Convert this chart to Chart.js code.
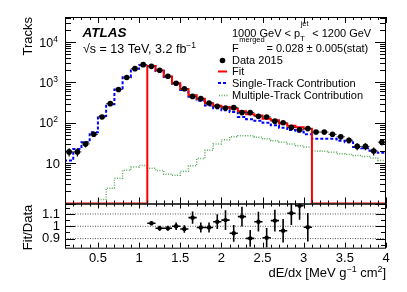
<!DOCTYPE html>
<html>
<head>
<meta charset="utf-8">
<script src="https://cdn.jsdelivr.net/npm/chart.js@4.4.1/dist/chart.umd.min.js"></script>
<style>
html, body { margin: 0; padding: 0; background: #fff; }
#wrap { position: relative; width: 407px; height: 292px; }
canvas { position: absolute; left: 0; top: 0; }
</style>
</head>
<body>
<div id="wrap">
<canvas id="main" width="407" height="292"></canvas>
<canvas id="ratio" width="407" height="292"></canvas>
</div>
<script>
// bin centres in dE/dx [MeV g^-1 cm^2], 0.1 wide (first bin lies left of the axis)
const dedx = [0.05,0.15,0.25,0.35,0.45,0.55,0.65,0.75,0.85,0.95,1.05,1.15,1.25,1.35,1.45,1.55,1.65,1.75,1.85,1.95,
              2.05,2.15,2.25,2.35,2.45,2.55,2.65,2.75,2.85,2.95,3.05,3.15,3.25,3.35,3.45,3.55,3.65,3.75,3.85,3.95]

const data2015 = [null,19,19,30,52,140,299,672,1325,2205,2765,2512,2003,1426,959,699,452,397,309,256,
                  233,238,179,179,146,140,110,100,77,67,72,59,59,52,45,37,26,26,20,33]
const dataErr = [null,4.4,4.4,5.5,7.2,11.8,17,26,36,47,53,50,45,38,31,26,21,20,18,16,
                 15,15,13,13,12,12,10.5,10,8.8,8.2,8.5,7.7,7.7,7.2,6.7,6.1,5.1,5.1,4.5,5.7]
// fit is empty outside 1.1-3.1, drawn on the axis floor
const fitVals = [1,1,1,1,1,1,1,1,1,1,1,2570,1970,1400,960,685,485,395,305,265,
                 245,225,193,162,151,127,115,96,85,78,71,1,1,1,1,1,1,1,1,1]
const singleTrack = [100,11.6,22.5,33,58,148,287,672,1345,2205,2660,2530,1930,1370,930,650,440,350,270,230,
                     205,185,140,123,112,100,87,76,66,60,52,40,40,40,36,33,25,23.5,20.4,18]
const multiTrack = [0.5,0.5,0.5,0.5,0.5,1.25,2.4,4.2,6.7,8.0,8.7,7.5,6.6,5.3,5.0,6.3,8.6,13,21,30,
                    38,45,48,48,44,40,36,33,30,27,25,20,19.6,18.7,17,16.5,15.4,14.7,13.5,11.7]

const ratioBins = [1.15,1.25,1.35,1.45,1.55,1.65,1.75,1.85,1.95,2.05,2.15,2.25,2.35,2.45,2.55,2.65,2.75,2.85,2.95,3.05]
const fitOverData = [1.024,0.984,0.984,1.0,0.978,1.07,0.99,0.99,1.037,1.05,0.943,1.078,0.902,1.037,0.907,1.046,0.964,1.106,1.167,0.992]
const ratioErr = [0.016,0.02,0.02,0.03,0.03,0.05,0.04,0.04,0.06,0.08,0.068,0.08,0.068,0.08,0.08,0.088,0.095,0.095,0.115,0.115]
const ratioLines = [0.9, 1.0, 1.1]

const xTicks = [0.5,1,1.5,2,2.5,3,3.5,4]
const yTicks = [10,100,1000,10000]
const ratioTicks = [0.9,1,1.1]

const FONT = '"Liberation Sans", Arial, sans-serif'
const half = 0.05

function hist(vals){
    const pts = []
    dedx.forEach((c,i) => { pts.push({x:c-half, y:vals[i]}, {x:c+half, y:vals[i]}) })
    return pts
}
function xBars(xs, ys){
    const pts = []
    xs.forEach((c,i) => { if (ys[i] == null) return; pts.push({x:c-half,y:ys[i]},{x:c+half,y:ys[i]},{x:c,y:null}) })
    return pts
}
function yBars(xs, ys, es){
    const pts = []
    xs.forEach((c,i) => { if (ys[i] == null) return; pts.push({x:c,y:ys[i]-es[i]},{x:c,y:ys[i]+es[i]},{x:c,y:null}) })
    return pts
}
function points(xs, ys){
    return xs.map((c,i) => ({x:c, y:ys[i]})).filter(p => p.y != null)
}

function txt(ctx, s, x, y, size, style, align){
    ctx.font = (style ? style + ' ' : '') + size + 'px ' + FONT
    ctx.textAlign = align || 'left'
    ctx.textBaseline = 'alphabetic'
    ctx.fillStyle = '#000'
    ctx.fillText(s, x, y)
    return ctx.measureText(s).width
}
// parts: [text, raise] ; raise 0 = normal, >0 superscript
function rich(ctx, parts, x, y, size, align){
    const w = parts.map(p => { ctx.font = (p[1] ? size*0.68 : size) + 'px ' + FONT; return ctx.measureText(p[0]).width })
    let cx = align === 'right' ? x - w.reduce((a,b)=>a+b,0) : x
    parts.forEach((p,i) => {
        txt(ctx, p[0], cx, y - (p[1] || 0), p[1] ? size*0.68 : size)
        cx += w[i]
    })
}

function tickMarks(ctx, a, sc, vals, major, lenMaj, lenMin, vertical){
    vals.forEach(v => {
        const p = Math.round(sc.getPixelForValue(v)) + 0.5
        const len = major(v) ? lenMaj : lenMin
        if (vertical){
            ctx.moveTo(a.left, p); ctx.lineTo(a.left + len, p)
            ctx.moveTo(a.right, p); ctx.lineTo(a.right - len, p)
        } else {
            ctx.moveTo(p, a.bottom); ctx.lineTo(p, a.bottom - len)
            ctx.moveTo(p, a.top); ctx.lineTo(p, a.top + len)
        }
    })
}

let xMinor = []
for (let k = 1; k <= 40; k++) xMinor.push(k/10)
const isHalf = v => Math.abs(v*2 - Math.round(v*2)) < 1e-6
let yMinor = []
for (let e = 0; e <= 4; e++) for (let m = 1; m <= 9; m++) if (m*Math.pow(10,e) <= 42000) yMinor.push(m*Math.pow(10,e))
const ratioMinor = [0.85,0.9,0.95,1,1.05,1.1,1.15]

const mainFrame = {
    id:'mainFrame',
    afterDraw(chart){
        const {ctx, chartArea:a, scales} = chart
        ctx.save()
        ctx.strokeStyle = '#000'
        ctx.lineWidth = 1
        ctx.strokeRect(a.left+0.5, a.top+0.5, a.right-a.left-1, a.bottom-a.top)
        ctx.beginPath()
        tickMarks(ctx, a, scales.x, xMinor, isHalf, 6, 3, false)
        tickMarks(ctx, a, scales.y, yMinor, v => yTicks.includes(v) || v === 1, 11, 6, true)
        ctx.stroke()

        // log axis labels
        yTicks.forEach((v,i) => {
            const p = scales.y.getPixelForValue(v) + 4.5
            if (i === 0) txt(ctx, '10', 60, p, 13, '', 'right')
            else rich(ctx, [['10',0],[String(i+1),5]], 58, p, 12.5, 'right')
        })

        // axis title
        ctx.save()
        ctx.translate(31.5, 17)
        ctx.rotate(-Math.PI/2)
        txt(ctx, 'Tracks', 0, 0, 13, '', 'right')
        ctx.restore()

        // labels
        txt(ctx, 'ATLAS', 82.5, 37, 13.5, 'italic bold')
        rich(ctx, [['\u221As = 13 TeV, 3.2 fb',0],['\u22121',5.5]], 83, 53, 12.5)

        let x = 232
        x += txt(ctx, '1000 GeV < p', x, 36.7, 11)
        ctx.font = '7.5px ' + FONT
        const jw = ctx.measureText('jet').width
        txt(ctx, 'jet', x + 0.5, 26, 7.5)
        txt(ctx, 'T', x, 40.5, 7.5)
        txt(ctx, ' < 1200 GeV', x + jw + 1, 36.7, 11)

        const fw = txt(ctx, 'F', 232, 51.7, 11)
        txt(ctx, 'merged', 232 + fw + 0.5, 42, 7.5)
        txt(ctx, '= 0.028 \u00B1 0.005(stat)', 266.5, 51.7, 11)

        // legend
        const rows = [64, 75.3, 86.8, 99]
        txt(ctx, 'Data 2015', 232, rows[0], 11)
        txt(ctx, 'Fit', 232, rows[1], 11)
        txt(ctx, 'Single-Track Contribution', 232, rows[2], 11)
        txt(ctx, 'Multiple-Track Contribution', 232, rows[3], 11)
        ctx.fillStyle = '#000'
        ctx.beginPath(); ctx.arc(222.5, 60.5, 2.8, 0, 2*Math.PI); ctx.fill()
        ctx.lineWidth = 2
        ctx.strokeStyle = '#ff0000'
        ctx.beginPath(); ctx.moveTo(218, 71.5); ctx.lineTo(227, 71.5); ctx.stroke()
        ctx.strokeStyle = '#0000ff'
        ctx.setLineDash([3,2])
        ctx.beginPath(); ctx.moveTo(218, 83); ctx.lineTo(228, 83); ctx.stroke()
        ctx.strokeStyle = '#5fae5f'
        ctx.lineWidth = 1.5
        ctx.setLineDash([1,1.5])
        ctx.beginPath(); ctx.moveTo(219, 95.5); ctx.lineTo(228, 95.5); ctx.stroke()
        ctx.restore()
    }
}

const ratioFrame = {
    id:'ratioFrame',
    afterDraw(chart){
        const {ctx, chartArea:a, scales} = chart
        ctx.save()
        ctx.strokeStyle = '#000'
        ctx.lineWidth = 1
        ctx.strokeRect(a.left+0.5, a.top+0.5, a.right-a.left-1, a.bottom-a.top)
        ctx.beginPath()
        tickMarks(ctx, a, scales.x, xMinor, isHalf, 5, 3, false)
        tickMarks(ctx, a, scales.y, ratioMinor, v => ratioTicks.includes(v), 10, 5, true)
        ctx.stroke()

        ctx.save()
        ctx.translate(31.5, 227.5)
        ctx.rotate(-Math.PI/2)
        txt(ctx, 'Fit/Data', 0, 0, 13, '', 'center')
        ctx.restore()

        rich(ctx, [['dE/dx [MeV g',0],['\u22121',5.5],[' cm',0],['2',5.5],[']',0]], 386, 277, 13, 'right')
        ctx.restore()
    }
}

const lineDs = (pts, color, width, dash) => ({
    data: pts, borderColor: color, borderWidth: width, borderDash: dash || [],
    pointRadius: 0, fill: false, spanGaps: false, tension: 0
})

new Chart(document.getElementById('main'), {
    type: 'line',
    data: {
        datasets: [
            { data: points(dedx, data2015), showLine: false, pointRadius: 2.8, pointBackgroundColor: '#000', pointBorderWidth: 0 },
            lineDs(xBars(dedx, data2015), '#333', 1),
            lineDs(yBars(dedx, data2015, dataErr), '#000', 1.2),
            lineDs(hist(fitVals), '#ff0000', 2),
            lineDs(hist(singleTrack), '#0000ff', 2, [3,2]),
            lineDs(hist(multiTrack), '#5fae5f', 1.5, [1,1.5])
        ]
    },
    options: {
        responsive: false,
        animation: false,
        layout: { padding: { top: 17, right: 21, bottom: 88.5, left: 0 } },
        plugins: { legend: { display: false }, tooltip: { enabled: false } },
        scales: {
            x: { type: 'linear', min: 0.1, max: 4, display: false },
            y: {
                type: 'logarithmic', min: 1, max: 42000,
                afterFit: s => { s.width = 65 },
                ticks: { display: false },
                grid: { display: false, drawTicks: false },
                border: { display: false }
            }
        }
    },
    plugins: [mainFrame]
})

new Chart(document.getElementById('ratio'), {
    type: 'line',
    data: {
        datasets: [
            { data: points(ratioBins, fitOverData), showLine: false, pointRadius: 2.2, pointBackgroundColor: '#000', pointBorderWidth: 0 },
            lineDs(xBars(ratioBins, fitOverData), '#000', 1.6),
            lineDs(yBars(ratioBins, fitOverData, ratioErr), '#000', 1.6),
            ...ratioLines.map(v => lineDs([{x:0.1,y:v},{x:4,y:v}], '#555', 1, [1,1.5]))
        ]
    },
    options: {
        responsive: false,
        animation: false,
        layout: { padding: { top: 203.5, right: 21, bottom: 0, left: 0 } },
        plugins: { legend: { display: false }, tooltip: { enabled: false } },
        scales: {
            x: {
                type: 'linear', min: 0.1, max: 4,
                afterBuildTicks: s => { s.ticks = xTicks.map(v => ({value: v})) },
                afterFit: s => { s.height = 44.3 },
                ticks: { font: { family: FONT, size: 13 }, color: '#000', padding: 3, maxRotation: 0, autoSkip: false,
                         callback: v => String(v) },
                grid: { display: false, drawTicks: false },
                border: { display: false }
            },
            y: {
                type: 'linear', min: 0.826, max: 1.185,
                afterBuildTicks: s => { s.ticks = ratioTicks.map(v => ({value: v})) },
                afterFit: s => { s.width = 65 },
                ticks: { font: { family: FONT, size: 13 }, color: '#000', padding: 5, callback: v => String(v) },
                grid: { display: false, drawTicks: false },
                border: { display: false }
            }
        }
    },
    plugins: [ratioFrame]
})
</script>
</body>
</html>
